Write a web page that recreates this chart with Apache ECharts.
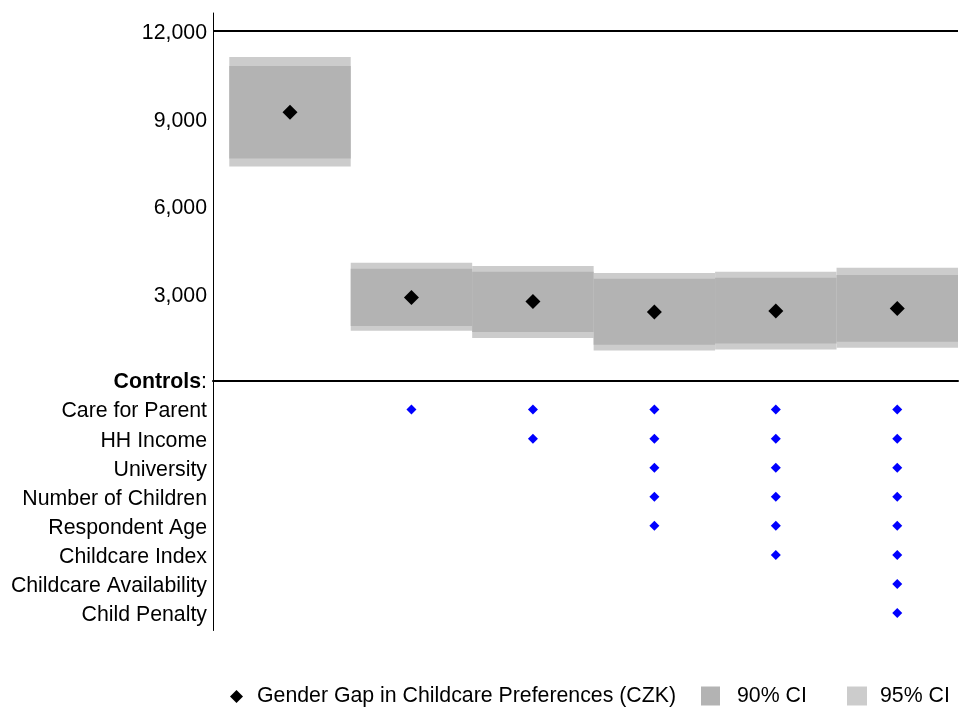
<!DOCTYPE html>
<html>
<head>
<meta charset="utf-8">
<script src="https://cdn.jsdelivr.net/npm/echarts@6/dist/echarts.min.js"></script>
<style>
html,body{margin:0;padding:0;background:#fff;}
#chart{width:962px;height:707px;}
</style>
</head>
<body>
<div id="chart"></div>
<script>
// ---- data ----
const modelPositions = [1, 2, 3, 4, 5, 6];
const estimate  = [9195, 2845, 2705, 2350, 2385, 2470];
const ci90Low   = [7615, 1870, 1665, 1230, 1265, 1330];
const ci90High  = [10780, 3830, 3725, 3485, 3520, 3620];
const ci95Low   = [7340, 1710, 1460, 1025, 1060, 1125];
const ci95High  = [11090, 4035, 3930, 3690, 3725, 3865];
const yTickValues = [3000, 6000, 9000, 12000];
const controlNames = ['Care for Parent', 'HH Income', 'University', 'Number of Children',
  'Respondent Age', 'Childcare Index', 'Childcare Availability', 'Child Penalty'];
// 1 = control included in model (columns = models 1..6)
const controlMatrix = [
  [0, 1, 1, 1, 1, 1],
  [0, 0, 1, 1, 1, 1],
  [0, 0, 0, 1, 1, 1],
  [0, 0, 0, 1, 1, 1],
  [0, 0, 0, 1, 1, 1],
  [0, 0, 0, 0, 1, 1],
  [0, 0, 0, 0, 0, 1],
  [0, 0, 0, 0, 0, 1]
];
const seriesNames = ['Gender Gap in Childcare Preferences (CZK)', '90% CI', '95% CI'];

// ---- build ----
const FONT = "'Liberation Sans', Arial, Helvetica, sans-serif";
const FS = 21.3;
const est = modelPositions.map((x, i) => [x, estimate[i]]);
const box90 = modelPositions.map((x, i) => [x, ci90Low[i], ci90High[i]]);
const box95 = modelPositions.map((x, i) => [x, ci95Low[i], ci95High[i]]);
const ctrlPts = [];
controlMatrix.forEach((row, r) => row.forEach((v, c) => { if (v) ctrlPts.push([modelPositions[c], r + 1]); }));

function boxRender(params, api) {
  const x = api.value(0);
  const p1 = api.coord([x - 0.5, api.value(2)]);
  const p2 = api.coord([x + 0.5, api.value(1)]);
  return {
    type: 'rect',
    shape: { x: p1[0], y: p1[1], width: p2[0] - p1[0], height: p2[1] - p1[1] },
    style: { fill: api.visual('color') }
  };
}

const chart = echarts.init(document.getElementById('chart'), null, { renderer: 'canvas' });
const legendText = (pad) => ({ color: '#000', fontSize: FS, fontFamily: FONT, padding: [5, 0, 0, pad] });
chart.setOption({
  animation: false,
  backgroundColor: '#fff',
  textStyle: { fontFamily: FONT },
  grid: [
    { left: 213, right: 4, top: 13, height: 367.5 },
    { left: 213, right: 4, top: 380.5, height: 250 }
  ],
  xAxis: [
    { gridIndex: 0, type: 'value', min: 0.366, max: 6.5,
      axisLine: { show: true, onZero: false, lineStyle: { color: '#000', width: 2 } },
      axisTick: { show: false }, axisLabel: { show: false }, splitLine: { show: false } },
    { gridIndex: 1, type: 'value', min: 0.366, max: 6.5, show: false, splitLine: { show: false } }
  ],
  yAxis: [
    { gridIndex: 0, type: 'value', min: 0, max: 12600, interval: 3000,
      axisLine: { show: true, lineStyle: { color: '#000', width: 1 } },
      axisTick: { show: false }, splitLine: { show: false },
      axisLabel: { color: '#000', fontSize: FS, fontFamily: FONT, margin: 6,
        formatter: v => yTickValues.indexOf(v) >= 0 ? '{n|' + v.toLocaleString('en-US') + '}' : '',
        rich: { n: { fontSize: FS, fontFamily: FONT, color: '#000', padding: [6, 0, 0, 0] } } } },
    { gridIndex: 1, type: 'value', min: 0, max: 8.6, interval: 1, inverse: true,
      axisLine: { show: true, lineStyle: { color: '#000', width: 1 } },
      axisTick: { show: false }, splitLine: { show: false },
      axisLabel: { color: '#000', fontSize: FS, fontFamily: FONT, margin: 6, padding: [4, 0, 0, 0],
        formatter: v => {
          if (v === 0) return '{b|Controls}:';
          if (Number.isInteger(v) && v >= 1 && v <= controlNames.length) return controlNames[v - 1];
          return '';
        },
        rich: { b: { fontWeight: 'bold', fontSize: FS, fontFamily: FONT, color: '#000' } } } }
  ],
  legend: [
    { data: [seriesNames[0]], left: 230, top: 686, padding: 0, icon: 'diamond',
      itemWidth: 13, itemHeight: 13, textStyle: legendText(9) },
    { data: [seriesNames[1]], left: 701, top: 685.5, padding: 0, icon: 'rect',
      itemWidth: 19, itemHeight: 19, textStyle: legendText(12) },
    { data: [seriesNames[2]], left: 847, top: 685.5, padding: 0, icon: 'rect',
      itemWidth: 20, itemHeight: 19, textStyle: legendText(8) }
  ],
  series: [
    { name: seriesNames[2], type: 'custom', xAxisIndex: 0, yAxisIndex: 0,
      itemStyle: { color: '#cccccc' }, renderItem: boxRender, data: box95, z: 1 },
    { name: seriesNames[1], type: 'custom', xAxisIndex: 0, yAxisIndex: 0,
      itemStyle: { color: '#b3b3b3' }, renderItem: boxRender, data: box90, z: 2 },
    { name: seriesNames[0], type: 'scatter', xAxisIndex: 0, yAxisIndex: 0,
      symbol: 'diamond', symbolSize: 15, itemStyle: { color: '#000', opacity: 1 }, data: est, z: 5,
      markLine: { silent: true, symbol: 'none', label: { show: false },
        lineStyle: { color: '#000', width: 2, type: 'solid' },
        data: [{ yAxis: yTickValues[yTickValues.length - 1] }] } },
    { name: 'controls', type: 'scatter', xAxisIndex: 1, yAxisIndex: 1,
      symbol: 'diamond', symbolSize: 10, itemStyle: { color: '#0000ff', opacity: 1 }, data: ctrlPts, z: 5 }
  ]
});
</script>
</body>
</html>
